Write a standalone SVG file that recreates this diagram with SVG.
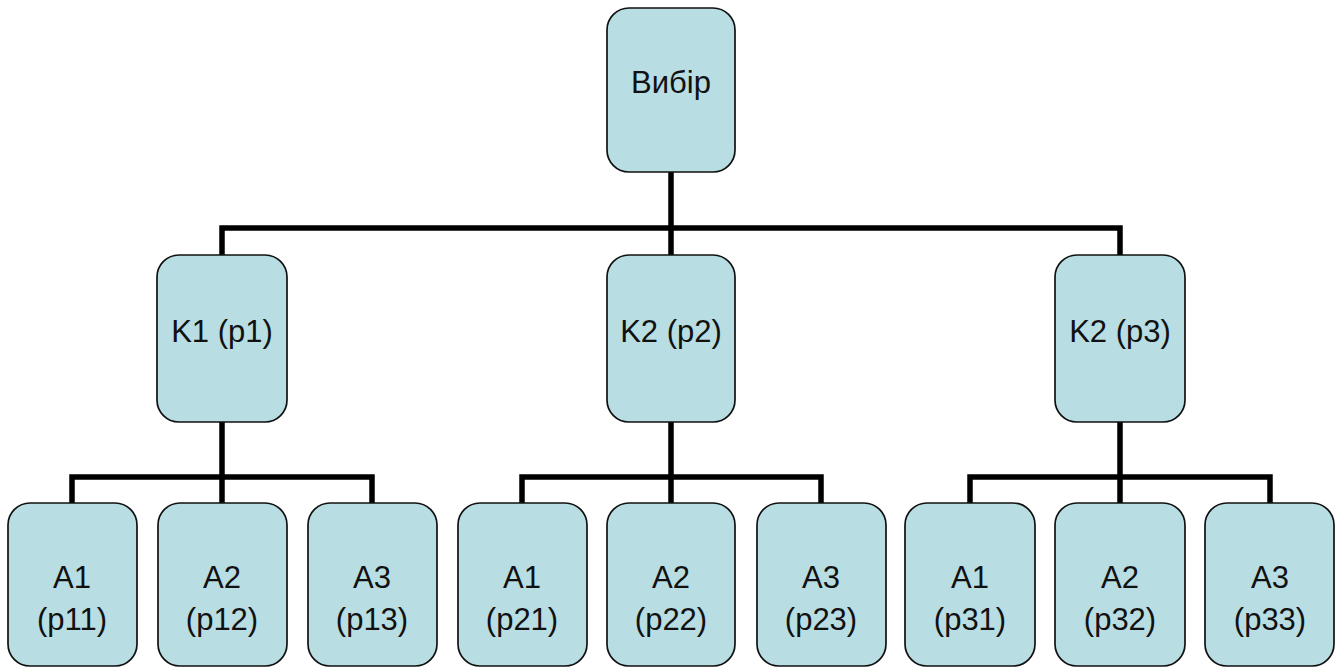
<svg xmlns="http://www.w3.org/2000/svg" width="1341" height="668" viewBox="0 0 1341 668">
<style>
.box{fill:#b8dee3;stroke:#111;stroke-width:1.7}
.t{font-family:"Liberation Sans",Arial,sans-serif;font-size:31px;fill:#111;text-anchor:middle}
.c{stroke:#000;stroke-width:5.5;fill:none;stroke-linecap:square}
</style>
<rect width="1341" height="668" fill="#fff"/>
<g id="connectors">
<path class="c" d="M671,172 V228 M222,228 H1120 M222,228 V255 M671,228 V255 M1120,228 V255"/>
<path class="c" d="M222,422 V477 M72,477 H372 M72,477 V503 M372,477 V503 M222,477 V503"/>
<path class="c" d="M671,422 V477 M522,477 H821 M522,477 V503 M821,477 V503 M671,477 V503"/>
<path class="c" d="M1120,422 V477 M970,477 H1270 M970,477 V503 M1270,477 V503 M1120,477 V503"/>
</g>
<g id="root"><rect class="box" x="607" y="8" width="128" height="164" rx="22"/><text class="t" x="671" y="93">Вибір</text></g>
<g id="k1"><rect class="box" x="157" y="255" width="130" height="167" rx="22"/><text class="t" x="222" y="342">K1 (p1)</text></g>
<g id="k2"><rect class="box" x="607" y="255" width="128" height="167" rx="22"/><text class="t" x="671" y="342">K2 (p2)</text></g>
<g id="k3"><rect class="box" x="1055" y="255" width="130" height="167" rx="22"/><text class="t" x="1120" y="342">K2 (p3)</text></g>
<g id="a11"><rect class="box" x="8" y="503" width="129" height="163" rx="22"/><text class="t" x="72" y="588">A1</text><text class="t" x="72" y="630">(p11)</text></g>
<g id="a12"><rect class="box" x="158" y="503" width="129" height="163" rx="22"/><text class="t" x="222" y="588">A2</text><text class="t" x="222" y="630">(p12)</text></g>
<g id="a13"><rect class="box" x="308" y="503" width="129" height="163" rx="22"/><text class="t" x="372" y="588">A3</text><text class="t" x="372" y="630">(p13)</text></g>
<g id="a21"><rect class="box" x="458" y="503" width="129" height="163" rx="22"/><text class="t" x="522" y="588">A1</text><text class="t" x="522" y="630">(p21)</text></g>
<g id="a22"><rect class="box" x="607" y="503" width="128" height="163" rx="22"/><text class="t" x="671" y="588">A2</text><text class="t" x="671" y="630">(p22)</text></g>
<g id="a23"><rect class="box" x="757" y="503" width="129" height="163" rx="22"/><text class="t" x="821" y="588">A3</text><text class="t" x="821" y="630">(p23)</text></g>
<g id="a31"><rect class="box" x="905" y="503" width="130" height="163" rx="22"/><text class="t" x="970" y="588">A1</text><text class="t" x="970" y="630">(p31)</text></g>
<g id="a32"><rect class="box" x="1055" y="503" width="130" height="163" rx="22"/><text class="t" x="1120" y="588">A2</text><text class="t" x="1120" y="630">(p32)</text></g>
<g id="a33"><rect class="box" x="1205" y="503" width="129" height="163" rx="22"/><text class="t" x="1270" y="588">A3</text><text class="t" x="1270" y="630">(p33)</text></g>
</svg>
